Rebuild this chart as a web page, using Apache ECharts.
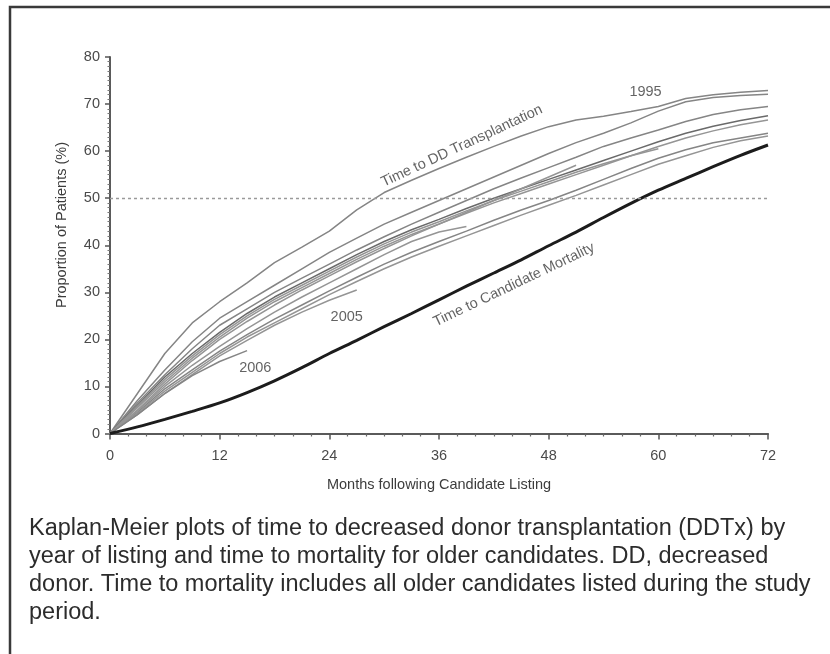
<!DOCTYPE html>
<html>
<head>
<meta charset="utf-8">
<script src="https://cdn.jsdelivr.net/npm/echarts@6/dist/echarts.min.js"></script>
<style>
  html, body { margin: 0; padding: 0; background: #fff; }
  #chart { width: 830px; height: 654px; }
</style>
</head>
<body>
<div id="chart"></div>
<script>
// Months since listing at which each Kaplan-Meier estimate is sampled
const months = [0, 3, 6, 9, 12, 15, 18, 21, 24, 27, 30, 33, 36, 39, 42, 45, 48, 51, 54, 57, 60, 63, 66, 69, 72];

// Cumulative proportion (%) transplanted from a deceased donor, by year of listing
const ddtx1995 = [0, 8.5, 17, 23.5, 28, 32, 36.3, 39.6, 43, 47.5, 51.2, 53.8, 56.3, 58.7, 61, 63.2, 65.2, 66.6, 67.4, 68.4, 69.5, 71.2, 72, 72.5, 72.9];
const ddtx1996 = [0, 7, 13.5, 19.5, 24.5, 28, 31.5, 35, 38.5, 41.5, 44.5, 47, 49.5, 52, 54.5, 57, 59.5, 61.8, 63.8, 66, 68.5, 70.5, 71.4, 71.8, 72.1];
const ddtx1997 = [0, 6.5, 12.5, 18, 23, 26.5, 30, 33, 36, 39, 41.8, 44.5, 47, 49.5, 52, 54.3, 56.5, 58.7, 61, 62.8, 64.5, 66.3, 67.8, 68.8, 69.5];
const ddtx1998 = [0, 6, 12, 17, 21.5, 25.5, 29, 32, 35, 38, 40.8, 43.3, 45.5, 47.8, 50, 52, 54, 56, 58, 60, 62, 63.8, 65.3, 66.5, 67.5];
const ddtx1999 = [0, 5.5, 11, 16, 20.5, 24.5, 28, 31, 34, 37, 39.8, 42.3, 44.5, 46.8, 49, 51, 53, 55, 57, 59, 61, 62.8, 64.3, 65.6, 66.6];
const ddtx2000 = [0, 4.5, 9.5, 13.5, 17.5, 21, 24.3, 27.3, 30.3, 33.2, 36, 38.5, 40.8, 43, 45.3, 47.5, 49.5, 51.7, 54, 56.3, 58.5, 60.3, 61.8, 62.8, 63.8];
const ddtx2001 = [0, 4.3, 9, 13, 17, 20.5, 23.5, 26.5, 29.5, 32.3, 35, 37.5, 39.8, 42, 44.2, 46.4, 48.5, 50.6, 52.8, 55, 57.2, 59, 60.8, 62.2, 63.2];
const ddtx2002 = [0, 5.8, 11.5, 16.5, 21, 25, 28.5, 31.5, 34.5, 37.5, 40.3, 42.8, 45, 47.3, 49.5, 51.5, 53.5, 55.5, 57.3, 59, 60.5];
const ddtx2003 = [0, 5, 10.5, 15.5, 20, 23.8, 27.3, 30.5, 33.5, 36.5, 39.3, 42, 44.5, 47, 49.5, 52, 54.5, 57];
const ddtx2004 = [0, 4.8, 10, 14.5, 18.5, 22.3, 25.8, 29, 32, 35, 38, 40.8, 42.8, 44];
const ddtx2005 = [0, 4, 8.5, 12.5, 16.5, 19.8, 23, 25.8, 28.3, 30.5];
const ddtx2006 = [0, 4, 8.5, 12.3, 15.3, 17.6];

// Cumulative candidate mortality (%), all older candidates
const mortality = [0, 1.4, 3, 4.7, 6.5, 8.7, 11.2, 14, 17, 19.8, 22.7, 25.5, 28.4, 31.3, 34.1, 36.9, 39.9, 42.8, 45.9, 48.9, 51.7, 54.2, 56.7, 59.1, 61.3];

const yearCurves = [
  { year: '1995', values: ddtx1995, tone: 'mid' },
  { year: '1996', values: ddtx1996, tone: 'mid' },
  { year: '1997', values: ddtx1997, tone: 'mid' },
  { year: '1998', values: ddtx1998, tone: 'dark' },
  { year: '1999', values: ddtx1999, tone: 'light' },
  { year: '2000', values: ddtx2000, tone: 'mid' },
  { year: '2001', values: ddtx2001, tone: 'light' },
  { year: '2002', values: ddtx2002, tone: 'light' },
  { year: '2003', values: ddtx2003, tone: 'light' },
  { year: '2004', values: ddtx2004, tone: 'light' },
  { year: '2005', values: ddtx2005, tone: 'light' },
  { year: '2006', values: ddtx2006, tone: 'mid' }
];

// Axis ranges
const xMin = 0, xMax = 72, xStep = 12;
const yMin = 0, yMax = 80, yStep = 10;
const referenceLevel = 50;

// In-plot annotations, anchored in data coordinates [month, percent]
const annotations = [
  { text: 'Time to DD Transplantation', at: [38.5, 61.1], angle: 25 },
  { text: 'Time to Candidate Mortality', at: [44.2, 31.6], angle: 25.5 },
  { text: '1995', at: [58.6, 72.6], angle: 0 },
  { text: '2005', at: [25.9, 24.8], angle: 0 },
  { text: '2006', at: [15.9, 13.9], angle: 0 }
];

const xTitle = 'Months following Candidate Listing';
const yTitle = 'Proportion of Patients (%)';
const caption = 'Kaplan-Meier plots of time to decreased donor transplantation (DDTx) by\n' +
  'year of listing and time to mortality for older candidates. DD, decreased\n' +
  'donor. Time to mortality includes all older candidates listed during the study\n' +
  'period.';

const toneColor = { light: '#959595', mid: '#858585', dark: '#6a6a6a' };
const FONT = '"Liberation Sans", Arial, sans-serif';
const SMALL = 14.5;

const pairs = vals => vals.map((v, i) => [months[i], v]);

const series = yearCurves.map(c => ({
  name: c.year,
  type: 'line',
  data: pairs(c.values),
  showSymbol: false,
  smooth: false,
  lineStyle: { color: toneColor[c.tone], width: 1.5 },
  z: 2,
  silent: true
}));

series.push({
  name: 'Mortality',
  type: 'line',
  data: pairs(mortality),
  showSymbol: false,
  smooth: 0.3,
  lineStyle: { color: '#1c1c1c', width: 3 },
  z: 3,
  silent: true,
  markLine: {
    silent: true,
    symbol: 'none',
    label: { show: false },
    lineStyle: { color: '#9a9a9a', type: [3, 3], width: 1.3 },
    data: [{ yAxis: referenceLevel }]
  }
});

series.push({
  name: 'annotations',
  type: 'scatter',
  symbolSize: 0,
  silent: true,
  z: 5,
  data: annotations.map(a => ({
    value: a.at,
    label: {
      show: true,
      position: 'inside',
      formatter: a.text,
      rotate: a.angle,
      color: '#3c3c3c',
      fontSize: SMALL,
      fontFamily: FONT
    }
  }))
});

const chart = echarts.init(document.getElementById('chart'), null, { renderer: 'canvas' });

chart.setOption({
  animation: false,
  backgroundColor: '#ffffff',
  grid: { left: 110, right: 62, top: 57, bottom: 220.5, containLabel: false },
  xAxis: {
    type: 'value',
    min: xMin, max: xMax, interval: xStep,
    offset: 4,
    axisLine: { show: true, lineStyle: { color: '#5a5a5a', width: 2 } },
    axisTick: { show: true, length: 6, lineStyle: { color: '#555', width: 1.5 } },
    minorTick: { show: true, splitNumber: 6, length: 3, lineStyle: { color: '#666', width: 1.2 } },
    splitLine: { show: false },
    axisLabel: { color: '#4a4a4a', fontSize: SMALL, fontFamily: FONT, margin: 11 },
    name: xTitle,
    nameLocation: 'middle',
    nameGap: 40,
    nameTextStyle: { color: '#3c3c3c', fontSize: SMALL, fontFamily: FONT }
  },
  yAxis: {
    type: 'value',
    min: yMin, max: yMax, interval: yStep,
    offset: 3,
    axisLine: { show: true, lineStyle: { color: '#5a5a5a', width: 2 } },
    axisTick: { show: true, length: 5, lineStyle: { color: '#555', width: 1.5 } },
    minorTick: { show: true, splitNumber: 10, length: 2.5, lineStyle: { color: '#777', width: 1 } },
    splitLine: { show: false },
    axisLabel: { color: '#4a4a4a', fontSize: SMALL, fontFamily: FONT, margin: 7 }
  },
  series: series,
  graphic: [
    {
      type: 'polyline',
      silent: true,
      shape: { points: [[10, 654], [10, 7], [830, 7]] },
      style: { stroke: '#3a3a3a', lineWidth: 2.5, fill: null }
    },
    {
      type: 'text',
      silent: true,
      x: 62,
      y: 225,
      rotation: Math.PI / 2,
      style: {
        text: yTitle,
        fontSize: SMALL,
        fontFamily: FONT,
        fill: '#3c3c3c',
        align: 'center',
        verticalAlign: 'middle'
      }
    },
    {
      type: 'text',
      silent: true,
      left: 29,
      top: 515,
      style: {
        text: caption,
        fontSize: 23.5,
        fontFamily: FONT,
        lineHeight: 28,
        fill: '#2c2c2c'
      }
    }
  ]
});
</script>
</body>
</html>
